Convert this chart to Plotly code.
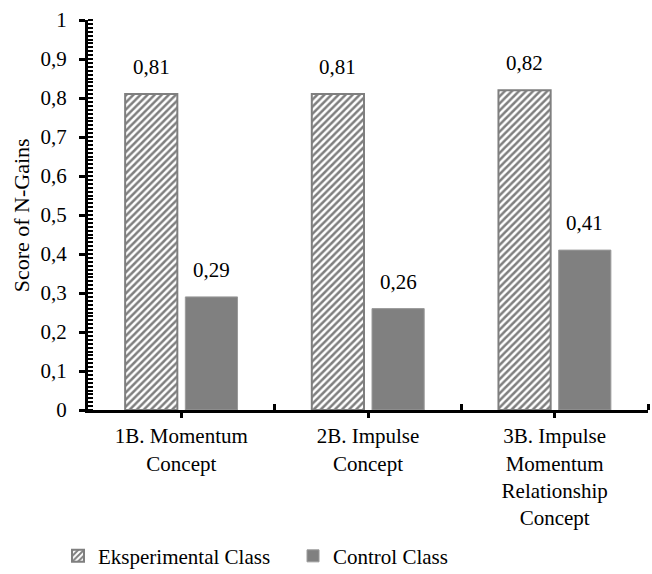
import plotly.graph_objects as go

categories = ["1B. Momentum<br>Concept", "2B. Impulse<br>Concept",
              "3B. Impulse<br>Momentum<br>Relationship<br>Concept"]
exp_values = [0.81, 0.81, 0.82]
ctrl_values = [0.29, 0.26, 0.41]
series_names = ["Eksperimental Class", "Control Class"]
y_title = "Score of N-Gains"

FONT = "Liberation Serif, Times New Roman, serif"
FS = 21
xpos = list(range(len(categories)))

fig = go.Figure()
fig.add_trace(go.Bar(
    x=xpos, y=exp_values, name=series_names[0],
    marker=dict(color="white",
                line=dict(color="#7f7f7f", width=2),
                pattern=dict(shape="/", fgcolor="black", bgcolor="white",
                             size=5, solidity=0.5)),
))
fig.add_trace(go.Bar(
    x=xpos, y=ctrl_values, name=series_names[1],
    marker=dict(color="#808080", line=dict(color="#9a9a9a", width=1)),
))

bargap = 0.355
slot = (1 - bargap) / 2
annotations = []
for vals, off in ((exp_values, -slot / 2), (ctrl_values, slot / 2)):
    for i, v in enumerate(vals):
        annotations.append(dict(
            x=i + off, y=v, xref="x", yref="y",
            text=f"{v:.2f}".replace(".", ","), showarrow=False,
            yanchor="bottom", yshift=13,
            font=dict(family=FONT, size=FS, color="black")))
annotations.append(dict(
    x=-0.119, y=0.5, xref="paper", yref="paper", text=y_title,
    textangle=-90, showarrow=False, xanchor="center", yanchor="middle",
    font=dict(family=FONT, size=22, color="black")))

fig.update_layout(
    width=652, height=574,
    margin=dict(l=88, r=4, t=20, b=164, autoexpand=False),
    paper_bgcolor="white", plot_bgcolor="white",
    separators=", ",
    barmode="group", bargap=bargap, bargroupgap=0.133,
    font=dict(family=FONT, size=FS, color="black"),
    annotations=annotations,
    showlegend=True,
    legend=dict(orientation="h",
                xref="container", x=0.089, xanchor="left",
                yref="container", y=0.031, yanchor="middle",
                font=dict(family=FONT, size=FS, color="black"),
                entrywidth=190, itemwidth=30),
    xaxis=dict(
        range=[-0.5, 2.5], automargin=False,
        tickmode="array",
        tickvals=xpos + [2.5],
        ticktext=categories + [""],
        ticks="outside", ticklen=5, tickwidth=3, tickcolor="black",
        showline=True, linecolor="black", linewidth=3,
        showgrid=False, zeroline=False,
        minor=dict(tickmode="array", tickvals=[0.5, 1.5, 2.5],
                   ticks="inside", ticklen=6, tickwidth=3,
                   tickcolor="black", showgrid=False),
        tickfont=dict(family=FONT, size=FS, color="black"),
    ),
    yaxis=dict(
        range=[0, 1], automargin=False,
        tickmode="linear", tick0=0, dtick=0.1,
        ticks="outside", ticklen=6, tickwidth=3, tickcolor="black",
        ticklabelstandoff=8,
        showline=True, linecolor="black", linewidth=3,
        showgrid=False, zeroline=False,
        minor=dict(tickmode="linear", dtick=0.01, ticks="inside", ticklen=5,
                   tickwidth=2, tickcolor="black", showgrid=False),
        tickfont=dict(family=FONT, size=FS, color="black"),
    ),
)

fig.write_html("out.html", config={"displayModeBar": False},
               post_script="document.body.style.margin='0';")
